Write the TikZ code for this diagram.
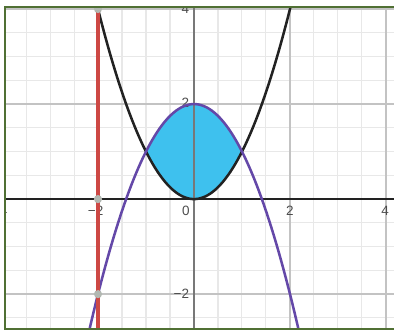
\documentclass[tikz,border=0pt]{standalone}
\usepackage{fontspec}
\setmainfont{Liberation Sans}
\usetikzlibrary{positioning}
\definecolor{GridMinor}{RGB}{232,232,232}
\definecolor{GridMajor}{RGB}{195,195,195}
\definecolor{AxisGray}{RGB}{120,120,120}
\definecolor{CurveBlack}{RGB}{34,34,34}
\definecolor{CurvePurple}{RGB}{100,72,168}
\definecolor{LineRed}{RGB}{205,72,68}
\definecolor{FillCyan}{RGB}{62,193,238}
\definecolor{FrameGreen}{RGB}{80,112,52}
\definecolor{PointGray}{RGB}{178,184,178}

\begin{document}
\begin{tikzpicture}[x=1cm, y=0.99cm,
    minorgrid/.style={draw=GridMinor, line width=0.6pt},
    majorgrid/.style={draw=GridMajor, line width=0.8pt},
    axisline/.style={line width=0.9pt},
    curve/.style={line width=1.5pt, smooth, samples=80},
    ticklbl/.style={font=\fontsize{8}{9}\selectfont, text=black!70, inner sep=1pt},
    pt/.style={circle, fill=PointGray, minimum size=0.17cm, inner sep=0pt}
  ]
  \useasboundingbox (-4.042,-2.78) rectangle (4.167,4.19);
  \begin{scope}
    \clip (-3.94,-2.74) rectangle (4.167,4.04);
    % Grid
    \draw[minorgrid] (-4.5,-3.5) grid[step=0.5] (4.5,4.5);
    \draw[majorgrid] (-4,-4) grid[step=2] (4.5,4.5);

    % Region between the curves
    \fill[FillCyan] plot[domain=-1:1, smooth, samples=60] (\x,{2-\x*\x})
      -- plot[domain=1:-1, smooth, samples=60] (\x,{\x*\x}) -- cycle;

    % Axes
    \draw[axisline, draw=CurveBlack] (-4.5,0) -- (4.5,0);
    \draw[axisline, draw=AxisGray] (0,-3.5) -- (0,4.5);

    % Tick labels
    \node[ticklbl] (xm4) at (-4.05,-0.25) {−4};
    \node[ticklbl] (xm2) at (-2.05,-0.25) {−2};
    \node[ticklbl] (x0)  at (-0.17,-0.25) {0};
    \node[ticklbl] (x2)  at (2,-0.25) {2};
    \node[ticklbl] (x4)  at (3.98,-0.25) {4};
    \node[ticklbl, anchor=east] (y4)  at (-0.06,4) {4};
    \node[ticklbl, anchor=east] (y2)  at (-0.06,2.03) {2};
    \node[ticklbl, anchor=east] (ym2) at (-0.06,-2) {−2};

    % Curves
    \draw[CurveBlack, curve, domain=-2.05:2.05] plot (\x,{\x*\x});
    \draw[CurvePurple, curve, domain=-2.3:2.3] plot (\x,{2-\x*\x});

    % Vertical line and its points
    \coordinate (redTop) at (-2,4.5);
    \coordinate (redBot) at (-2,-3.5);
    \draw[LineRed, line width=2pt] (redTop) -- (redBot);
    \node[pt] (ptTop)  at (-2,4) {};
    \node[pt] (ptAxis) at (-2,0) {};
    \node[pt] (ptLow)  at (-2,-2) {};
  \end{scope}

  % Frame
  \draw[FrameGreen, line width=1.2pt] (4.167,4.04) -- (-3.94,4.04)
    -- (-3.94,-2.74) -- (4.167,-2.74);
\end{tikzpicture}
\end{document}
